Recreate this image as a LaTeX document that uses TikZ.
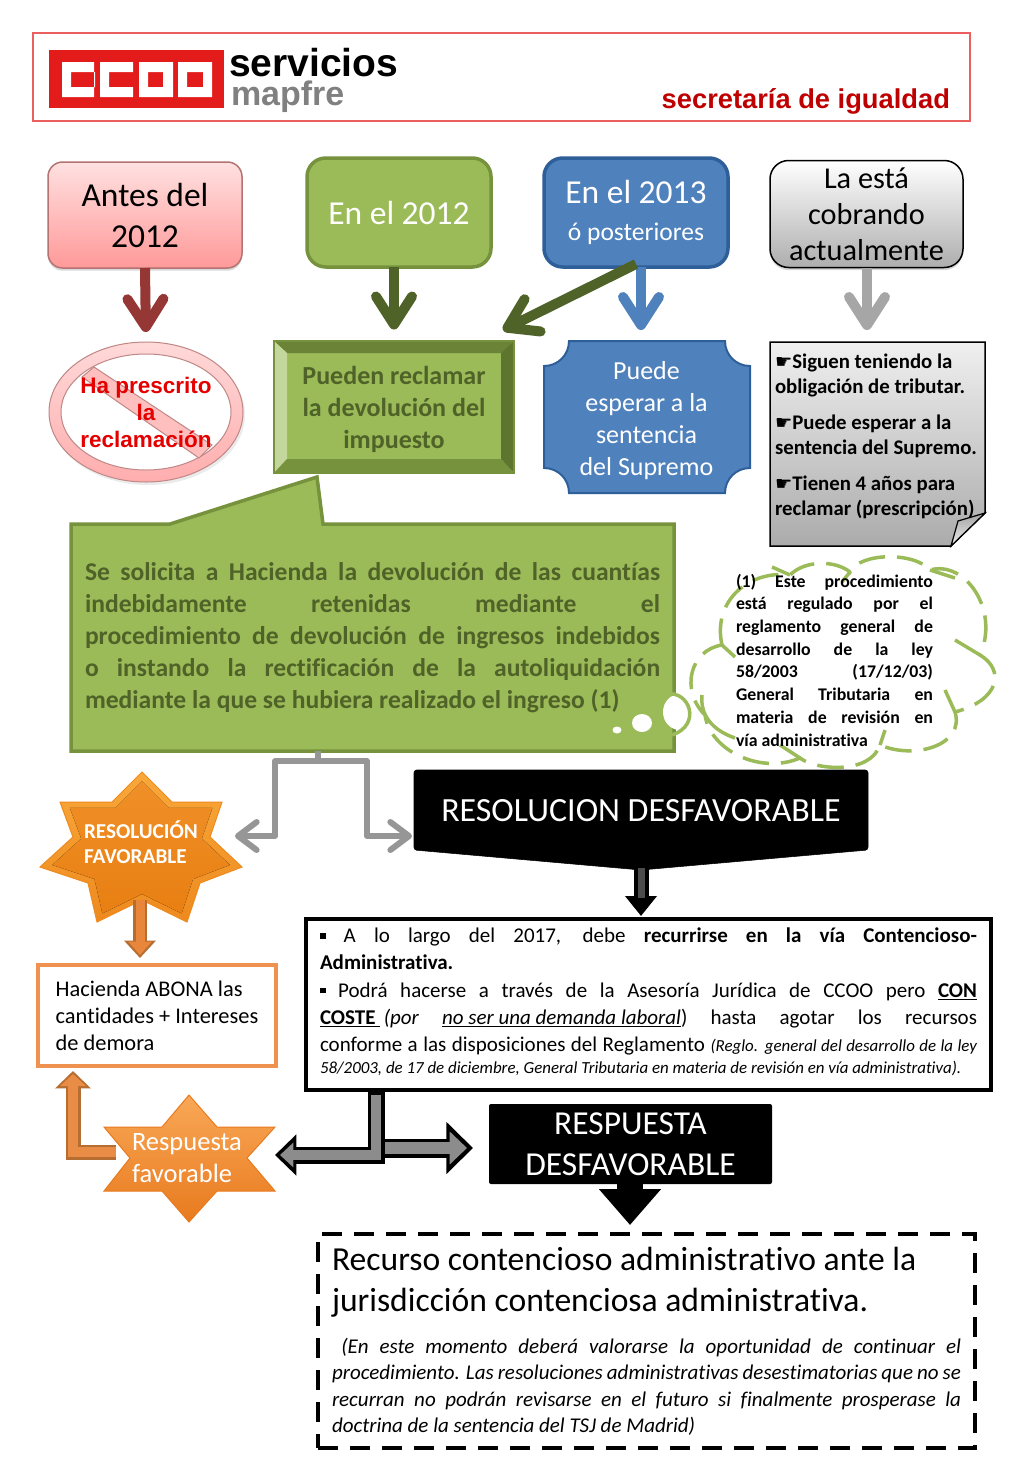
\documentclass[tikz,border=0pt]{standalone}
\usepackage{fontspec}
\setmainfont{Carlito}[Ligatures=NoCommon]
\newfontfamily\arialf{Liberation Sans}
\newfontfamily\dejavuf{DejaVu Sans}
\usetikzlibrary{arrows.meta,shadows,calc}
\def\px{.75pt}
\newcommand\fpx[2]{\fontsize{\fpeval{#1*.75}}{\fpeval{#2*.75}}\selectfont}
\newcommand\hand{{\dejavuf\fontsize{14.5pt}{14.5pt}\selectfont ☛}}
\newcommand\sqb{\rule[.18em]{4.2pt}{4.2pt}}
\newcommand\tolset{\tolerance=10000\relax\hbadness=10000\relax}
\definecolor{gfill}{HTML}{9BBB59}
\definecolor{gline}{HTML}{76923C}
\definecolor{gdark}{HTML}{4F6228}
\definecolor{bfill}{HTML}{4F81BD}
\definecolor{bline}{HTML}{2F5F98}
\definecolor{darkred}{HTML}{953735}
\definecolor{gr}{HTML}{969696}
\definecolor{ofill}{HTML}{E8873C}
\definecolor{oline}{HTML}{B66D31}
\definecolor{hborder}{HTML}{F0924F}
\definecolor{ccoo}{HTML}{E31B1B}
\definecolor{stA}{HTML}{F9A83A}
\definecolor{stB}{HTML}{EE8A1E}
\definecolor{stC}{HTML}{E87F12}
\definecolor{stD}{HTML}{F09028}
\definecolor{rfA}{HTML}{F9A857}
\definecolor{rfB}{HTML}{E87A1E}
\tikzset{
  x=.75pt,y=-.75pt,
  box/.style={rectangle,inner sep=0pt,outer sep=0pt,align=center},
  barb/.style={line width=10*\px,-{Straight Barb[length=21pt,width=27pt,round]},line cap=butt},
  thinbarb/.style={line width=6*\px,-{Straight Barb[length=14pt,width=21pt,round]},draw=gr},
}
\begin{document}
\begin{tikzpicture}
\useasboundingbox (0,0) rectangle (1024,1479);
\fill[white] (0,0) rectangle (1024,1479);
% header
\node[box,draw=ccoo!70,line width=1.5*\px,minimum width=937*\px,minimum height=88*\px] (header) at (501.5,77) {};
\fill[ccoo] (49,50) rectangle (224,108);
\fill[white,even odd rule] (62,62) rectangle (94,97) (71,72) rectangle (95,87);
\fill[white] (100,62) rectangle (133,72) (100,87) rectangle (133,97) (100,62) rectangle (109,97);
\fill[white,even odd rule] (139,62) rectangle (173,97) (148,72) rectangle (163,87);
\fill[white,even odd rule] (178,62) rectangle (212,97) (187,72) rectangle (203,87);
\node[box,anchor=base west,font=\arialf\bfseries\fpx{39}{39}] (serv) at (229,76) {servicios};
\node[box,anchor=base west,font=\arialf\bfseries\fpx{34}{34},text=black!50] (mapf) at (231,105) {mapfre};
\node[box,anchor=base east,font=\arialf\bfseries\fpx{27.3}{27.3},text=red!75!black] (secr) at (950,108) {secretaría de igualdad};
% top boxes
\node[box,draw=darkred!70,line width=1.5*\px,rounded corners=11pt,top color=red!12,bottom color=red!40,drop shadow={opacity=.3,shadow xshift=0pt,shadow yshift=-2pt},minimum width=194*\px,minimum height=106*\px,font=\fpx{33.5}{41}] (antes) at (145,215) {Antes del\\2012};
\node[box,draw=gline,fill=gfill,line width=3.5*\px,rounded corners=14pt,minimum width=184*\px,minimum height=109*\px,font=\fpx{33.5}{41},text=white] (en12) at (399,212.5) {En el 2012};
\node[box,draw=bline,fill=bfill,line width=3.5*\px,rounded corners=14pt,minimum width=184*\px,minimum height=109*\px,text=white,font=\fpx{25.5}{37}] (en13) at (636,212.5) {{\fpx{33.5}{37}En el 2013}\\ó posteriores};
\node[box,draw=black,line width=1.5*\px,rounded corners=14pt,top color=white,bottom color=black!32,drop shadow={opacity=.3,shadow xshift=0pt,shadow yshift=-2pt},minimum width=193*\px,minimum height=107*\px,font=\fpx{30.3}{36}] (cobr) at (866.5,214) {La está\\cobrando\\actualmente};
% prohibition sign
\fill[black!8] (148,415) ellipse [x radius=97,y radius=70];
\draw[draw=darkred!60,top color=red!15,bottom color=red!32,line width=1*\px] (146,412) ellipse [x radius=97,y radius=70];
\draw[draw=darkred!60,fill=white,line width=1*\px] (146,412) ellipse [x radius=85,y radius=58];
\draw[draw=darkred!60,fill=red!25,line width=1*\px] (94,367) -- (212,445) -- (199,458) -- (82,377) -- cycle;
\node[box,font=\arialf\bfseries\fpx{22.5}{27},text=red!90!black] (presc) at (146,412) {Ha prescrito\\la\\reclamación};
% pueden bevel
\node[box,fill=gfill,minimum width=240*\px,minimum height=133*\px,font=\bfseries\fpx{26}{32},text=gdark] (pueden) at (394,407) {};
\fill[gline!90!black] (274,341) -- (514,341) -- (501,353) -- (287,353) -- cycle;
\fill[gfill!60!white] (274,341) -- (287,353) -- (287,459) -- (274,473) -- cycle;
\fill[gline!80!black] (514,341) -- (514,473) -- (501,459) -- (501,353) -- cycle;
\fill[gline] (274,473) -- (514,473) -- (501,459) -- (287,459) -- cycle;
\draw[gline,line width=2*\px] (274,341) rectangle (514,473);
\node[box,font=\bfseries\fpx{26}{32},text=gdark] (pueden text) at (394,409) {Pueden reclamar\\la devolución del\\impuesto};
% plaque
\draw[draw=bline,fill=bfill,line width=2*\px] (569,341) -- (725,341) .. controls (725,355) and (736,366) .. (750,366) -- (750,468) .. controls (736,468) and (725,479) .. (725,493) -- (569,493) .. controls (569,479) and (558,468) .. (544,468) -- (544,366) .. controls (558,366) and (569,355) .. (569,341) -- cycle;
\node[box,font=\fpx{26}{32},text=white] (plaq) at (646.5,421) {Puede\\esperar a la\\sentencia\\del Supremo};
\coordinate (plaqtop) at (641,341);
\coordinate (en13b) at (641,267);
% note
\draw[draw=black,line width=1.5*\px,top color=black!6,bottom color=black!33] (770,342) -- (985,342) -- (985,513) -- (951,546) -- (770,546) -- cycle;
\draw[draw=black,line width=1.2*\px,top color=black!35,bottom color=black!8] (985,513) -- (958,521) -- (951,546) -- cycle;
\node[box,anchor=north west,align=left,font=\bfseries\fpx{20.8}{25}] (nota) at (775,354) {\hand Siguen teniendo la\\obligación de tributar.\\[8.25pt]\hand Puede esperar a la\\sentencia del Supremo.\\[8.25pt]\hand Tienen 4 años para\\reclamar (prescripción)};
% top arrows
\draw[barb,draw=darkred,shorten >=10*\px] (antes.south) -- (presc.north |- 0,342);
\draw[barb,draw=gdark,shorten >=11*\px] (en12.south -| pueden.north) -- (pueden.north);
\draw[barb,draw=bfill,shorten >=11*\px] (en13b) -- (plaqtop);
\coordinate (ptarget) at (503,330);
\draw[barb,draw=gdark] (en13.south) ++(0,-3) -- (ptarget);
\coordinate (notatop) at (867,342);
\draw[barb,draw=black!35,shorten >=12*\px] (cobr.south -| notatop) -- (notatop);
% callout
\draw[draw=gline,fill=gfill,line width=3.5*\px] (71,524) -- (170,524) -- (317,477) -- (323,524) -- (674,524) -- (674,751) -- (71,751) -- cycle;
\node[box,text width=575*\px,align=justify,font=\bfseries\fpx{25.6}{32}\tolset,text=gdark] (callout) at (372.5,638) {Se solicita a Hacienda la devolución de las cuantías\linebreak indebidamente retenidas mediante el\linebreak procedimiento de devolución de ingresos indebidos\linebreak o instando la rectificación de la autoliquidación\linebreak mediante la que se hubiera realizado el ingreso (1)};
% thought bubbles & cloud
\fill[white] (680,712) ellipse [x radius=17,y radius=18];
\fill[white] (642,723) ellipse [x radius=10,y radius=9];
\fill[white] (617,730) ellipse [x radius=4.5,y radius=3.5];
\draw[gfill,line width=3.5*\px,dash pattern=on 20pt off 9pt] (722,645) .. controls (712,600) and (750,570) .. (790,575) .. controls (805,560) and (835,560) .. (850,572) .. controls (860,552) and (915,552) .. (930,570) .. controls (965,560) and (1000,610) .. (980,655) .. controls (1005,670) and (1000,700) .. (955,712) .. controls (965,745) and (915,760) .. (880,745) .. controls (870,775) and (815,770) .. (800,758) .. controls (760,775) and (710,750) .. (705,715) .. controls (680,690) and (690,650) .. (722,645);
\draw[gfill,line width=3.5*\px] (666,694) .. controls (690,690) and (702,725) .. (672,735);
\draw[gfill,line width=3.5*\px] (702,695) .. controls (700,715) and (712,730) .. (735,738);
\draw[gfill,line width=3.5*\px] (722,645) -- (735,657) (790,575) -- (772,567) (850,572) -- (842,582) (930,570) -- (955,578) (980,655) -- (955,640) (955,712) -- (945,690) (880,745) -- (885,730) (800,758) -- (780,745);
\node[box,text width=197*\px,align=justify,font=\bfseries\fpx{17.8}{22.7}\tolset] (nota1) at (834.5,660) {(1) Este procedimiento\linebreak está regulado por el\linebreak reglamento general de\linebreak desarrollo de la ley\linebreak 58/2003 (17/12/03)\linebreak General Tributaria en\linebreak materia de revisión en\linebreak vía administrativa};
% gray fork
\coordinate (cb) at (318,751);
\coordinate (cj) at (318,761);
\coordinate (fl) at (275,761);
\coordinate (fr) at (367,761);
\coordinate (ftipL) at (235,836);
\coordinate (ftipR) at (412,836);
\draw[gr,line width=6*\px] (cb) -- (cj);
\draw[thinbarb,line join=round] (cj) -- (fl) -- (fl |- ftipL) -- (ftipL);
\draw[thinbarb,line join=round] (cj) -- (fr) -- (fr |- ftipR) -- (ftipR);
% star 1
\draw[draw=stB,line width=1*\px,top color=stA,bottom color=stB] (142,772) -- (172,802) -- (222,802) -- (210,837) -- (242,867) -- (200,883) -- (187,922) -- (142,900) -- (97,922) -- (88,883) -- (40,867) -- (73,837) -- (60,802) -- (112,802) -- cycle;
\begin{scope}[shift={(142,850)},scale=.88,shift={(-142,-850)}]
\fill[top color=stD,bottom color=stC] (142,772) -- (172,802) -- (222,802) -- (210,837) -- (242,867) -- (200,883) -- (187,922) -- (142,900) -- (97,922) -- (88,883) -- (40,867) -- (73,837) -- (60,802) -- (112,802) -- cycle;
\end{scope}
\node[box,anchor=north west,align=left,font=\bfseries\fpx{21.2}{25},text=white] (fav) at (84,821) {RESOLUCIÓN\\FAVORABLE};
\coordinate (favb) at (140,900);
% hacienda
\node[box,draw=hborder,fill=white,line width=4*\px,minimum width=238*\px,minimum height=101*\px,anchor=north west,align=left,font=\fpx{22.4}{27}] (hac) at (38,965) {Hacienda ABONA las\\cantidades + Intereses\\de demora};
\draw[oline,line width=14*\px,-{Triangle[length=13pt,width=23pt]},shorten >=7*\px] (favb) -- (favb |- hac.north);
\draw[ofill,line width=9*\px,-{Triangle[length=10pt,width=17pt]},shorten >=10*\px] (favb) -- (favb |- hac.north);
% desfavorable
\draw[fill=black,rounded corners=2pt] (414,770) -- (868,770) -- (868,850) -- (641,870) -- (414,850) -- cycle;
\node[box,font=\fpx{33.9}{40},text=white] (desf) at (641,811) {RESOLUCION DESFAVORABLE};
\coordinate (desfb) at (641,868);
\node[box,draw=black,fill=white,line width=4*\px,minimum width=685*\px,minimum height=171*\px] (mainb) at (648.5,1004.5) {};
\draw[black,line width=15*\px,-{Triangle[length=15pt,width=23pt]},shorten >=3*\px] (desfb) -- (desfb |- mainb.north);
\draw[black!70,line width=7*\px] (desfb) -- ($(desfb)+(0,30)$);
\node[box,anchor=north west,text width=657*\px,align=justify,font=\fpx{21}{27.2}\tolset] (maint) at (320,928) {\sqb\ A lo largo del 2017, debe \textbf{recurrirse en la vía Contencioso-}\linebreak \textbf{Administrativa.}\\
\sqb\ Podrá hacerse a través de la Asesoría Jurídica de CCOO pero \underline{\textbf{CON}}\linebreak \underline{\textbf{COSTE}\ }\,\textit{(por \underline{no ser una demanda laboral}})\ hasta agotar los recursos\linebreak conforme a las disposiciones del Reglamento {\itshape\fpx{16.9}{21}(Reglo. general del desarrollo de la ley\vadjust{\kern-3.75pt}\linebreak 58/2003, de 17 de diciembre, General Tributaria en materia de revisión en vía administrativa).}};
% respuesta desfav
\node[box,fill=black,rounded corners=1.5pt,minimum width=283*\px,minimum height=80*\px,font=\fpx{33.5}{41},text=white] (respd) at (630.5,1144) {RESPUESTA\\DESFAVORABLE};
% double arrow
\coordinate (mb) at (376,1090);
\coordinate (corner) at (376,1155);
\coordinate (ltip) at (275,1155);
\coordinate (rstart) at (376,1148);
\draw[black,line width=19*\px,-{Triangle[length=20pt,width=38pt]},shorten >=16*\px] (rstart) -- (respd.west |- rstart);
\draw[black!45,line width=12*\px,-{Triangle[length=13pt,width=24pt]},shorten >=22*\px] (rstart) -- (respd.west |- rstart);
\draw[black,line width=17*\px,miter limit=10,-{Triangle[length=16pt,width=30pt]}] (mb) -- (corner) -- (ltip);
\draw[black!45,line width=10*\px,-{Triangle[length=10pt,width=18pt]},shorten >=5*\px] ($(mb)+(0,5)$) -- (corner) -- (ltip);
% black arrow
\coordinate (dashtop) at (630,1234);
\draw[black,line width=26*\px,-{Triangle[length=27pt,width=45pt]},shorten >=9*\px] (respd.south -| dashtop) -- (dashtop);
% respuesta favorable
\coordinate (rfleft) at (116,1152);
\coordinate (rfbend) at (73,1152);
\coordinate (hacin) at (73,1066);
\draw[oline,line width=15*\px,-{Triangle[length=13pt,width=26pt]},shorten >=5*\px] (rfleft) -- (rfbend) -- (hacin);
\draw[ofill!95!white,line width=10*\px,-{Triangle[length=9pt,width=19pt]},shorten >=8*\px] (rfleft) -- (rfbend) -- (hacin);
\draw[draw=rfB,line width=1*\px,top color=rfA,bottom color=rfB] (189,1095) -- (217,1127) -- (275,1127) -- (247,1158) -- (275,1191) -- (217,1191) -- (189,1222) -- (162,1191) -- (104,1191) -- (130,1158) -- (104,1127) -- (162,1127) -- cycle;
\node[box,anchor=north west,align=left,font=\fpx{26.5}{32},text=white] (rf) at (132,1133) {Respuesta\\favorable};
% dashed box
\node[box,draw=black,line width=4*\px,dash pattern=on 15pt off 9pt,minimum width=657*\px,minimum height=214*\px] (dash) at (646.5,1341) {};
\node[box,anchor=north west,align=left,font=\fpx{33.6}{41}] (rec) at (332,1247) {Recurso contencioso administrativo ante la\\jurisdicción contenciosa administrativa.};
\node[box,anchor=north west,text width=629*\px,align=justify,font=\itshape\fpx{21}{26.5}\tolset] (recd) at (332,1338) {\hspace*{7pt}(En este momento deberá valorarse la oportunidad de continuar el\linebreak procedimiento. Las resoluciones administrativas desestimatorias que no se\linebreak recurran no podrán revisarse en el futuro si finalmente prosperase la\linebreak doctrina de la sentencia del TSJ de Madrid)};
\end{tikzpicture}
\end{document}
